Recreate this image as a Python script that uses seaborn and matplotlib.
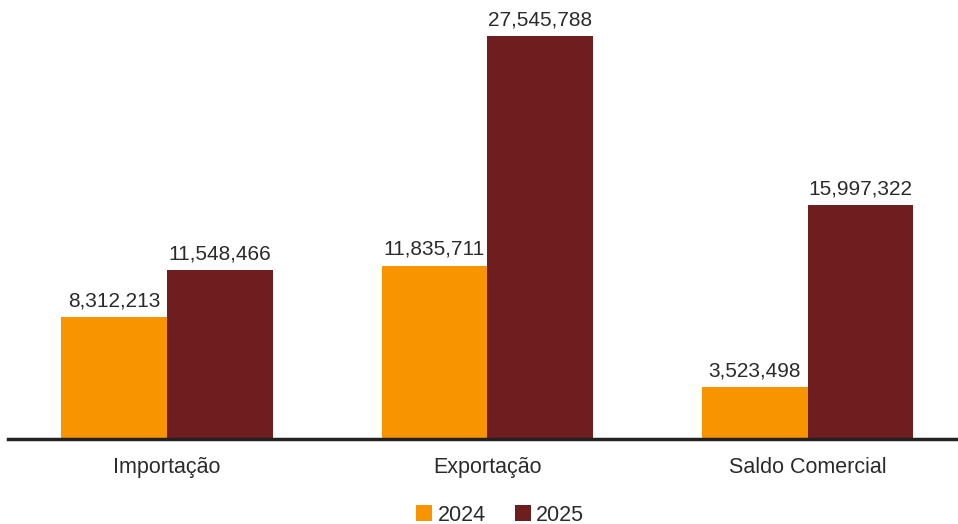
import matplotlib
matplotlib.use("Agg")
import matplotlib.pyplot as plt
import seaborn as sns
import pandas as pd

categories = ["Importação", "Exportação", "Saldo Comercial"]
years = ["2024", "2025"]
values_2024 = [8312213, 11835711, 3523498]
values_2025 = [11548466, 27545788, 15997322]
colors = ["#F79400", "#6F1E20"]

df = pd.DataFrame({
    "categoria": categories * 2,
    "ano": [years[0]] * 3 + [years[1]] * 3,
    "valor": values_2024 + values_2025,
})

sns.set_theme(style="white")
plt.rcParams["font.family"] = ["Liberation Sans", "DejaVu Sans"]

fig = plt.figure(figsize=(9.58, 5.24), dpi=100)
ax = fig.add_axes([8 / 958, 85 / 524, 950 / 958, 439 / 524])

sns.barplot(data=df, x="categoria", y="valor", hue="ano", palette=colors,
            width=0.66, saturation=1, linewidth=0, ax=ax, legend=True)

for cont in ax.containers:
    ax.bar_label(cont, labels=[f"{v:,.0f}" for v in cont.datavalues],
                 padding=5, fontsize=15, color="#2b2b2b")

ax.set_xlim(-0.497, 2.47)
ax.set_ylim(0, 30006000)
ax.set_xlabel("")
ax.set_ylabel("")
ax.set_yticks([])
ax.tick_params(axis="x", length=0, pad=13, labelsize=15.5, labelcolor="#2b2b2b")
for side in ["left", "right", "top"]:
    ax.spines[side].set_visible(False)
ax.spines["bottom"].set_color("#222222")
ax.spines["bottom"].set_linewidth(2.5)

leg = ax.legend(loc="lower center", bbox_to_anchor=(0.518, -0.242),
                ncol=2, frameon=False, fontsize=15.5, handlelength=0.75,
                handleheight=0.75, handletextpad=0.25, columnspacing=1.35)
for t in leg.get_texts():
    t.set_color("#2b2b2b")

fig.savefig("out.png", dpi=100)
